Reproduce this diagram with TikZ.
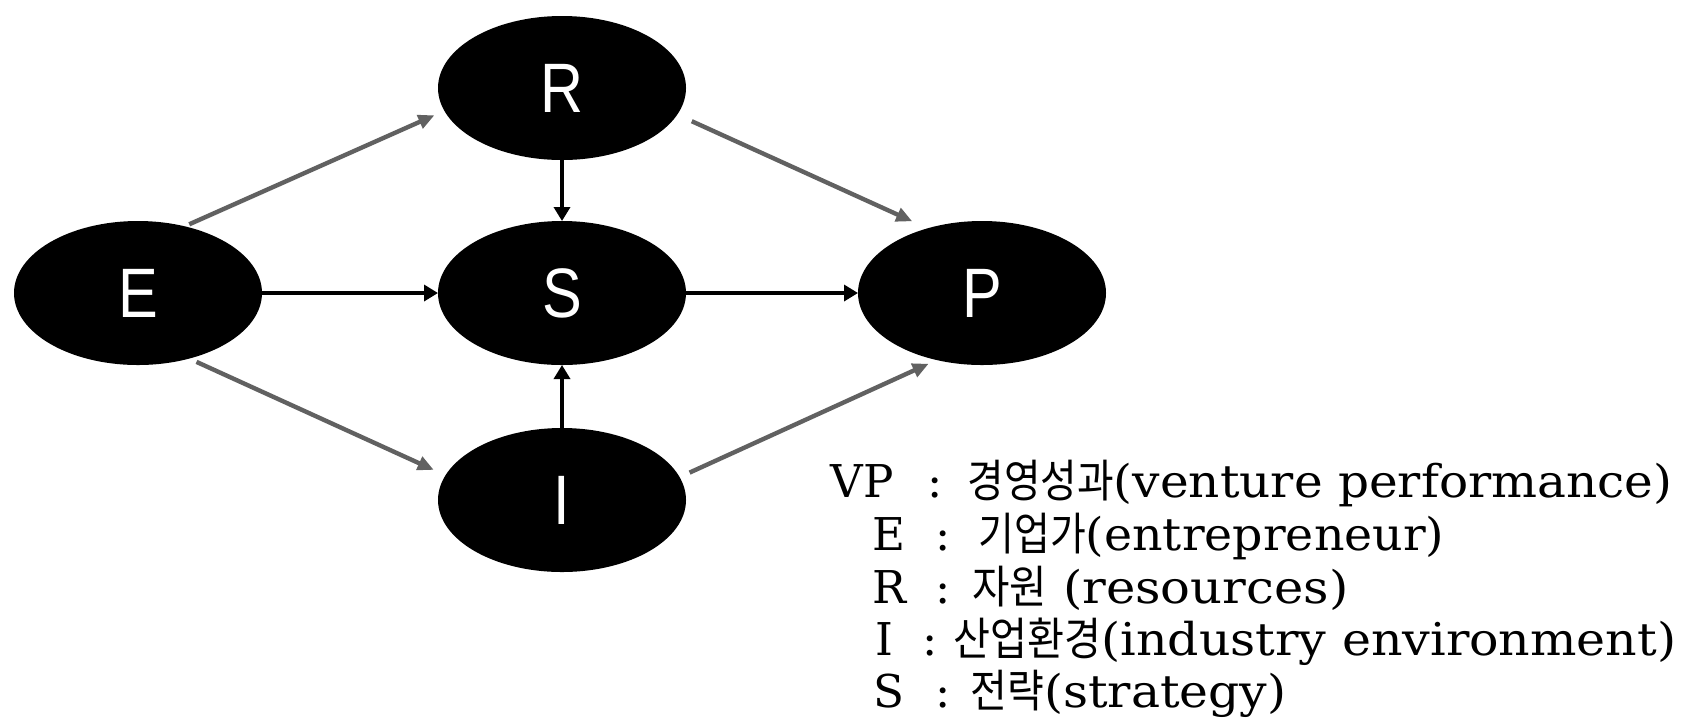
\documentclass[tikz,border=0pt]{standalone}
\usepackage{graphicx}
\usepackage{fontspec}
\setmainfont{DejaVu Serif}
\newfontfamily\krfont{Noto Sans CJK KR}
\newfontfamily\lblfont{Liberation Sans}
\usetikzlibrary{shapes.geometric,arrows.meta}
\newcommand\kr[1]{\scalebox{0.82}[1]{\krfont #1}}
\newcommand\ellt[1]{\raisebox{-2.5pt}{\scalebox{0.85}[1]{#1}}}
\newcommand\legrest[2]{\resizebox{#1}{\height}{#2}}
\begin{document}
\begin{tikzpicture}[x=0.5pt,y=-0.5pt,
  bub/.style={ellipse, fill=black, minimum width=124pt, minimum height=72pt,
    inner sep=0pt, outer sep=0pt, text=white, font=\lblfont\fontsize{35}{35}\selectfont},
  garrow/.style={draw=black!62, line width=2.2pt, -{Triangle[length=8pt,width=7pt]}},
  barrow/.style={draw=black, line width=1.7pt, -{Triangle[length=7pt,width=8pt]}},
  leg/.style={anchor=base west, inner sep=0pt, font=\fontsize{22.6}{26}\selectfont}]
\useasboundingbox (0,0) rectangle (1684,719);
\node[bub] (E) at (138,293) {\ellt{E}};
\node[bub] (R) at (562,88) {\ellt{R}};
\node[bub] (S) at (562,293) {\ellt{S}};
\node[bub] (P) at (982,293) {\ellt{P}};
\node[bub] (I) at (562,500) {\ellt{I}};
\draw[garrow, shorten <=2.5pt, shorten >=5.5pt] (E.55) -- (R.191);
\draw[garrow, shorten <=8pt, shorten >=8.5pt] (R.-13) -- (P.130);
\draw[garrow, shorten <=4pt, shorten >=6.5pt] (E.-52) -- (I.168);
\draw[garrow, shorten <=5.5pt, shorten >=4.5pt] (I.11) -- (P.236);
\draw[barrow] (E.east) -- (S.west);
\draw[barrow] (S.east) -- (P.west);
\draw[barrow] (R.south) -- (S.north);
\draw[barrow] (I.north) -- (S.south);
\node[leg] (l1) at (830,497) {\makebox[48.5pt][l]{VP}\makebox[20pt][l]{:}\legrest{352.5pt}{\kr{경영성과}(venture performance)}};
\node[leg] (l2) at (872,550) {\makebox[31.5pt][l]{E}\makebox[21.5pt][l]{:}\legrest{233pt}{\kr{기업가}(entrepreneur)}};
\node[leg] (l3) at (872,603) {\makebox[31.5pt][l]{R}\makebox[18.5pt][l]{:}\legrest{188pt}{\kr{자원} (resources)}};
\node[leg] (l4) at (875,655) {\makebox[23.5pt][l]{I}\makebox[15.5pt][l]{:}\legrest{361.5pt}{\kr{산업환경}(industry environment)}};
\node[leg] (l5) at (873,707) {\makebox[31pt][l]{S}\makebox[17.5pt][l]{:}\legrest{158pt}{\kr{전략}(strategy)}};
\end{tikzpicture}
\end{document}
